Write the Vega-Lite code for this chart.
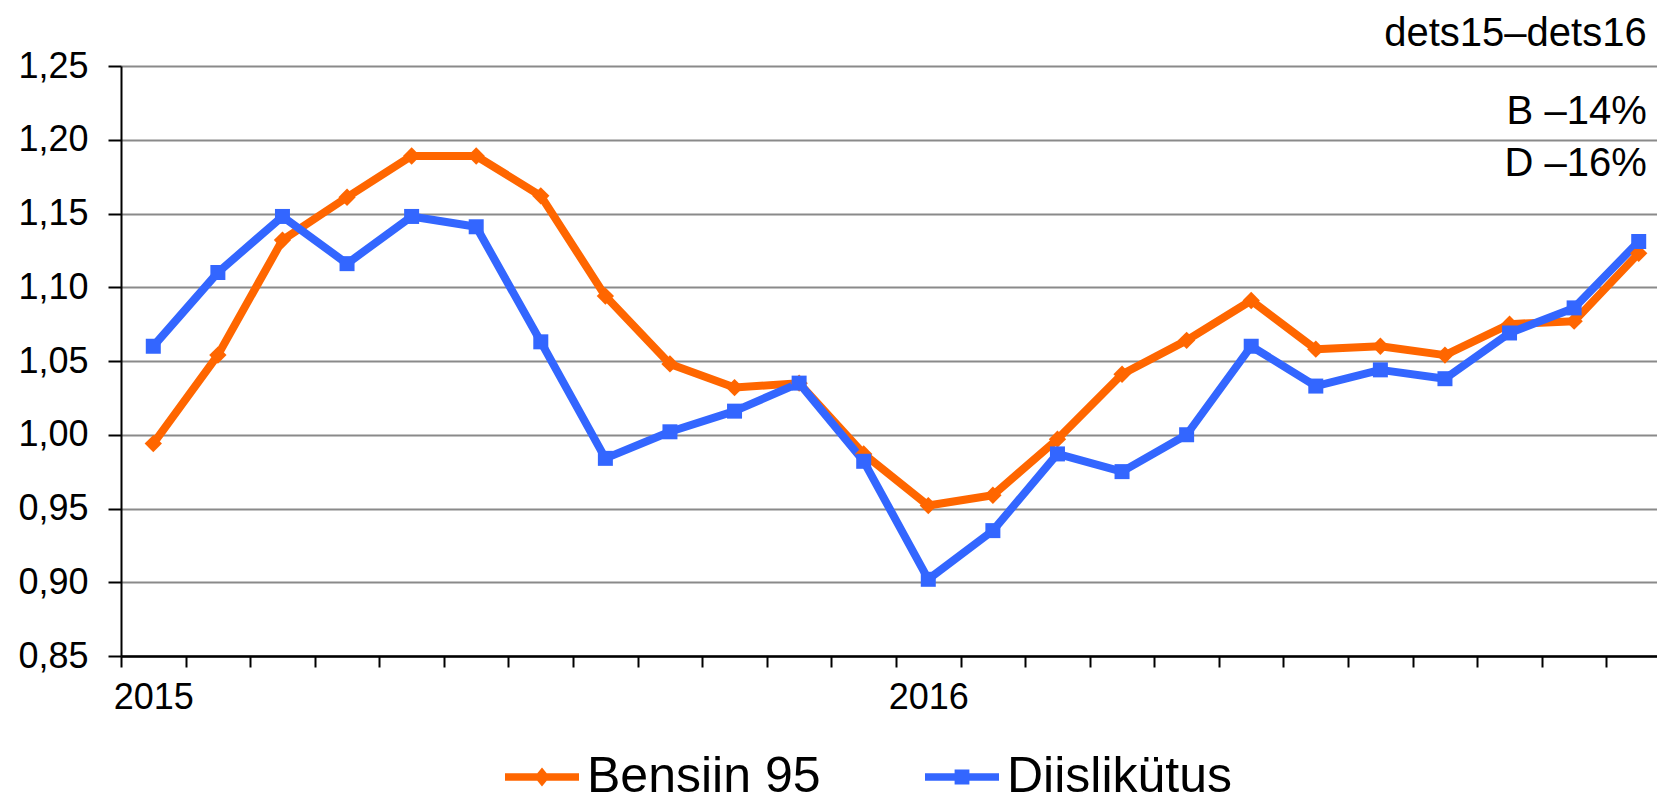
{
  "$schema": "https://vega.github.io/schema/vega-lite/v6.json",
  "autosize": {"type": "none"},
  "padding": {"left": 121, "top": 66, "right": 0, "bottom": 146},
  "width": 1536,
  "height": 590,
  "background": "white",
  "config": {
    "view": {"stroke": null},
    "font": "Liberation Sans",
    "text": {"font": "Liberation Sans", "color": "black"}
  },
  "datasets": {
    "prices": [
      {"month": "2015-01", "fuel": "Bensiin 95", "price": 0.994},
      {"month": "2015-02", "fuel": "Bensiin 95", "price": 1.054},
      {"month": "2015-03", "fuel": "Bensiin 95", "price": 1.132},
      {"month": "2015-04", "fuel": "Bensiin 95", "price": 1.161},
      {"month": "2015-05", "fuel": "Bensiin 95", "price": 1.189},
      {"month": "2015-06", "fuel": "Bensiin 95", "price": 1.189},
      {"month": "2015-07", "fuel": "Bensiin 95", "price": 1.162},
      {"month": "2015-08", "fuel": "Bensiin 95", "price": 1.094},
      {"month": "2015-09", "fuel": "Bensiin 95", "price": 1.048},
      {"month": "2015-10", "fuel": "Bensiin 95", "price": 1.032},
      {"month": "2015-11", "fuel": "Bensiin 95", "price": 1.035},
      {"month": "2015-12", "fuel": "Bensiin 95", "price": 0.987},
      {"month": "2016-01", "fuel": "Bensiin 95", "price": 0.952},
      {"month": "2016-02", "fuel": "Bensiin 95", "price": 0.959},
      {"month": "2016-03", "fuel": "Bensiin 95", "price": 0.997},
      {"month": "2016-04", "fuel": "Bensiin 95", "price": 1.041},
      {"month": "2016-05", "fuel": "Bensiin 95", "price": 1.064},
      {"month": "2016-06", "fuel": "Bensiin 95", "price": 1.091},
      {"month": "2016-07", "fuel": "Bensiin 95", "price": 1.058},
      {"month": "2016-08", "fuel": "Bensiin 95", "price": 1.060},
      {"month": "2016-09", "fuel": "Bensiin 95", "price": 1.054},
      {"month": "2016-10", "fuel": "Bensiin 95", "price": 1.075},
      {"month": "2016-11", "fuel": "Bensiin 95", "price": 1.077},
      {"month": "2016-12", "fuel": "Bensiin 95", "price": 1.123},
      {"month": "2015-01", "fuel": "Diislikütus", "price": 1.060},
      {"month": "2015-02", "fuel": "Diislikütus", "price": 1.110},
      {"month": "2015-03", "fuel": "Diislikütus", "price": 1.148},
      {"month": "2015-04", "fuel": "Diislikütus", "price": 1.116},
      {"month": "2015-05", "fuel": "Diislikütus", "price": 1.148},
      {"month": "2015-06", "fuel": "Diislikütus", "price": 1.141},
      {"month": "2015-07", "fuel": "Diislikütus", "price": 1.063},
      {"month": "2015-08", "fuel": "Diislikütus", "price": 0.984},
      {"month": "2015-09", "fuel": "Diislikütus", "price": 1.002},
      {"month": "2015-10", "fuel": "Diislikütus", "price": 1.016},
      {"month": "2015-11", "fuel": "Diislikütus", "price": 1.035},
      {"month": "2015-12", "fuel": "Diislikütus", "price": 0.982},
      {"month": "2016-01", "fuel": "Diislikütus", "price": 0.902},
      {"month": "2016-02", "fuel": "Diislikütus", "price": 0.935},
      {"month": "2016-03", "fuel": "Diislikütus", "price": 0.987},
      {"month": "2016-04", "fuel": "Diislikütus", "price": 0.975},
      {"month": "2016-05", "fuel": "Diislikütus", "price": 1.000},
      {"month": "2016-06", "fuel": "Diislikütus", "price": 1.060},
      {"month": "2016-07", "fuel": "Diislikütus", "price": 1.033},
      {"month": "2016-08", "fuel": "Diislikütus", "price": 1.044},
      {"month": "2016-09", "fuel": "Diislikütus", "price": 1.038},
      {"month": "2016-10", "fuel": "Diislikütus", "price": 1.069},
      {"month": "2016-11", "fuel": "Diislikütus", "price": 1.086},
      {"month": "2016-12", "fuel": "Diislikütus", "price": 1.131}
    ]
  },
  "data": {"name": "prices"},
  "encoding": {
    "x": {
      "field": "month",
      "type": "ordinal",
      "bandPosition": 0.5,
      "scale": {"type": "band", "paddingInner": 0, "paddingOuter": 0, "range": [0, 1550]},
      "axis": {
        "title": null,
        "grid": false,
        "tickBand": "extent",
        "labelExpr": "datum.value == '2015-01' ? '2015' : (datum.value == '2016-01' ? '2016' : '')",
        "labelOverlap": false,
        "labelAngle": 0,
        "labelFont": "Liberation Sans",
        "labelFontSize": 36,
        "labelColor": "black",
        "labelPadding": 13,
        "domainColor": "black",
        "domainWidth": 2.5,
        "tickColor": "black",
        "tickWidth": 2,
        "tickSize": 11
      }
    },
    "y": {
      "field": "price",
      "type": "quantitative",
      "scale": {"domain": [0.85, 1.25], "nice": false, "zero": false},
      "axis": {
        "title": null,
        "values": [0.85, 0.9, 0.95, 1.0, 1.05, 1.1, 1.15, 1.2, 1.25],
        "labelExpr": "replace(format(datum.value, '.2f'), '.', ',')",
        "labelFont": "Liberation Sans",
        "labelFontSize": 36,
        "labelColor": "black",
        "labelPadding": 20,
        "grid": true,
        "gridColor": "#8a8a8a",
        "gridWidth": 2,
        "domainColor": "black",
        "domainWidth": 2,
        "tickColor": "black",
        "tickWidth": 2,
        "tickSize": 13
      }
    }
  },
  "layer": [
    {
      "mark": {"type": "line", "strokeWidth": 8, "strokeJoin": "round"},
      "encoding": {
        "color": {
          "field": "fuel",
          "type": "nominal",
          "scale": {"domain": ["Bensiin 95", "Diislikütus"], "range": ["#ff6600", "#3366ff"]},
          "legend": {
            "title": null,
            "orient": "none",
            "direction": "horizontal",
            "columns": 2,
            "legendX": 384,
            "legendY": 674,
            "padding": 0,
            "symbolSize": 5476,
            "symbolStrokeWidth": 0,
            "labelFont": "Liberation Sans",
            "labelFontSize": 50,
            "labelColor": "black",
            "labelOffset": 8,
            "columnPadding": 104,
            "labelLimit": 0,
            "encode": {
              "symbols": {
                "update": {
                  "shape": {"signal": "datum.value === 'Bensiin 95' ? 'M-1,-0.1L1,-0.1L1,0.1L-1,0.1Z M0,-0.26L0.21,0L0,0.26L-0.21,0Z' : 'M-1,-0.1L1,-0.1L1,0.1L-1,0.1Z M-0.2,-0.2L0.2,-0.2L0.2,0.2L-0.2,0.2Z'"},
                  "fill": {"signal": "scale('color', datum.value)"},
                  "stroke": {"value": "transparent"},
                  "strokeWidth": {"value": 0},
                  "size": {"value": 5476},
                  "opacity": {"value": 1}
                }
              }
            }
          }
        }
      }
    },
    {
      "transform": [{"filter": "datum.fuel === 'Bensiin 95'"}],
      "mark": {"type": "point", "shape": "diamond", "filled": true, "size": 300, "opacity": 1},
      "encoding": {
        "color": {"field": "fuel", "type": "nominal"}
      }
    },
    {
      "transform": [{"filter": "datum.fuel === 'Diislikütus'"}],
      "mark": {"type": "point", "shape": "square", "filled": true, "size": 225, "opacity": 1},
      "encoding": {
        "color": {"field": "fuel", "type": "nominal"}
      }
    },
    {
      "transform": [{"filter": "datum.month === '2016-12' && datum.fuel === 'Bensiin 95'"}],
      "mark": {"type": "text", "text": "dets15–dets16", "align": "right", "baseline": "alphabetic", "fontSize": 40, "dx": 8},
      "encoding": {
        "x": {"datum": "2016-12", "type": "ordinal", "bandPosition": 0.5},
        "y": {"datum": 1.2636, "type": "quantitative"}
      }
    },
    {
      "transform": [{"filter": "datum.month === '2016-12' && datum.fuel === 'Bensiin 95'"}],
      "mark": {"type": "text", "text": "B –14%", "align": "right", "baseline": "alphabetic", "fontSize": 40, "dx": 8},
      "encoding": {
        "x": {"datum": "2016-12", "type": "ordinal", "bandPosition": 0.5},
        "y": {"datum": 1.2107, "type": "quantitative"}
      }
    },
    {
      "transform": [{"filter": "datum.month === '2016-12' && datum.fuel === 'Diislikütus'"}],
      "mark": {"type": "text", "text": "D –16%", "align": "right", "baseline": "alphabetic", "fontSize": 40, "dx": 8},
      "encoding": {
        "x": {"datum": "2016-12", "type": "ordinal", "bandPosition": 0.5},
        "y": {"datum": 1.1756, "type": "quantitative"}
      }
    }
  ]
}
